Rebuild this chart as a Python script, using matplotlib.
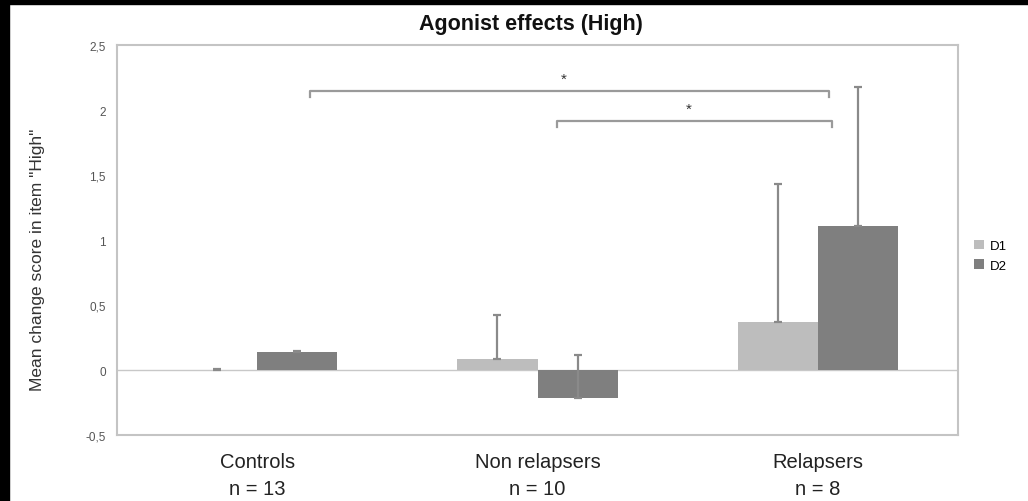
import matplotlib
matplotlib.use("Agg")
import matplotlib.pyplot as plt
from matplotlib.patches import Rectangle
import numpy as np

plt.rcParams['font.family'] = ['Liberation Sans', 'DejaVu Sans']

groups = ["Controls\nn = 13", "Non relapsers\nn = 10", "Relapsers\nn = 8"]
series = ["D1", "D2"]
d1_mean = [0.0, 0.085, 0.37]
d2_mean = [0.14, -0.215, 1.11]
d1_err = [0.005, 0.335, 1.06]
d2_err = [0.01, 0.33, 1.07]
yticks = [-0.5, 0, 0.5, 1, 1.5, 2, 2.5]
ytick_labels = ["-0,5", "0", "0,5", "1", "1,5", "2", "2,5"]

# significance brackets: (x start, x end, height, label)
brackets = [(0.19, 2.04, 2.15, "*"), (1.07, 2.05, 1.92, "*")]

c_d1 = "#bdbdbd"
c_d2 = "#7f7f7f"
c_err = "#8a8a8a"

fig = plt.figure(figsize=(10.28, 5.02), dpi=100)
ax = fig.add_axes([0.1138, 0.1315, 0.8182, 0.7765])

x = np.arange(len(groups))
w = 0.286
ax.axhline(0, color="#c8c8c8", lw=1.0, zorder=1)
ax.bar(x - w / 2, d1_mean, w, color=c_d1, label=series[0], zorder=2)
ax.bar(x + w / 2, d2_mean, w, color=c_d2, label=series[1], zorder=2)
ax.errorbar(x - w / 2, d1_mean, yerr=[np.zeros(3), d1_err], fmt="none",
            ecolor=c_err, elinewidth=1.6, capsize=3, capthick=1.6, zorder=3)
ax.errorbar(x + w / 2, d2_mean, yerr=[np.zeros(3), d2_err], fmt="none",
            ecolor=c_err, elinewidth=1.6, capsize=3, capthick=1.6, zorder=3)

for x0, x1, h, lab in brackets:
    ax.plot([x0, x0, x1, x1], [h - 0.05, h, h, h - 0.05], color="#9a9a9a",
            lw=1.6, zorder=3)
    ax.text((x0 + x1) / 2 - 0.02, h + 0.04, lab, ha="center", va="bottom",
            fontsize=11, color="#333333")

ax.set_xlim(-0.5, 2.5)
ax.set_ylim(-0.5, 2.5)
ax.set_yticks(yticks)
ax.set_yticklabels(ytick_labels, fontsize=8.5, color="#555555")
ax.set_xticks(x)
ax.set_xticklabels(groups, fontsize=14.5, color="#222222", linespacing=1.55)
ax.tick_params(axis="y", length=0, pad=8)
ax.tick_params(axis="x", length=0, pad=12)
for s in ax.spines.values():
    s.set_color("#c4c4c4")
    s.set_linewidth(1.5)

ax.set_ylabel("Mean change score in item \"High\"", fontsize=12.5,
              color="#333333")
ax.yaxis.set_label_coords(-0.086, 0.453)
fig.text(0.516, 0.952, "Agonist effects (High)", ha="center", va="center",
         fontsize=15.5, fontweight="bold", color="#111111")

ax.legend(loc="center left", bbox_to_anchor=(1.01, 0.46), frameon=False,
          fontsize=9.5, handlelength=0.75, handleheight=0.75,
          handletextpad=0.4, labelspacing=0.55, borderaxespad=0.2)

# dark frame strips along the top and left edges
fig.add_artist(Rectangle((0, 0), 9 / 1028, 1, transform=fig.transFigure,
                         color="black", zorder=10))
fig.add_artist(Rectangle((0, 1 - 5 / 502), 1, 5 / 502,
                         transform=fig.transFigure, color="black", zorder=10))

fig.savefig("out.png", dpi=100)
